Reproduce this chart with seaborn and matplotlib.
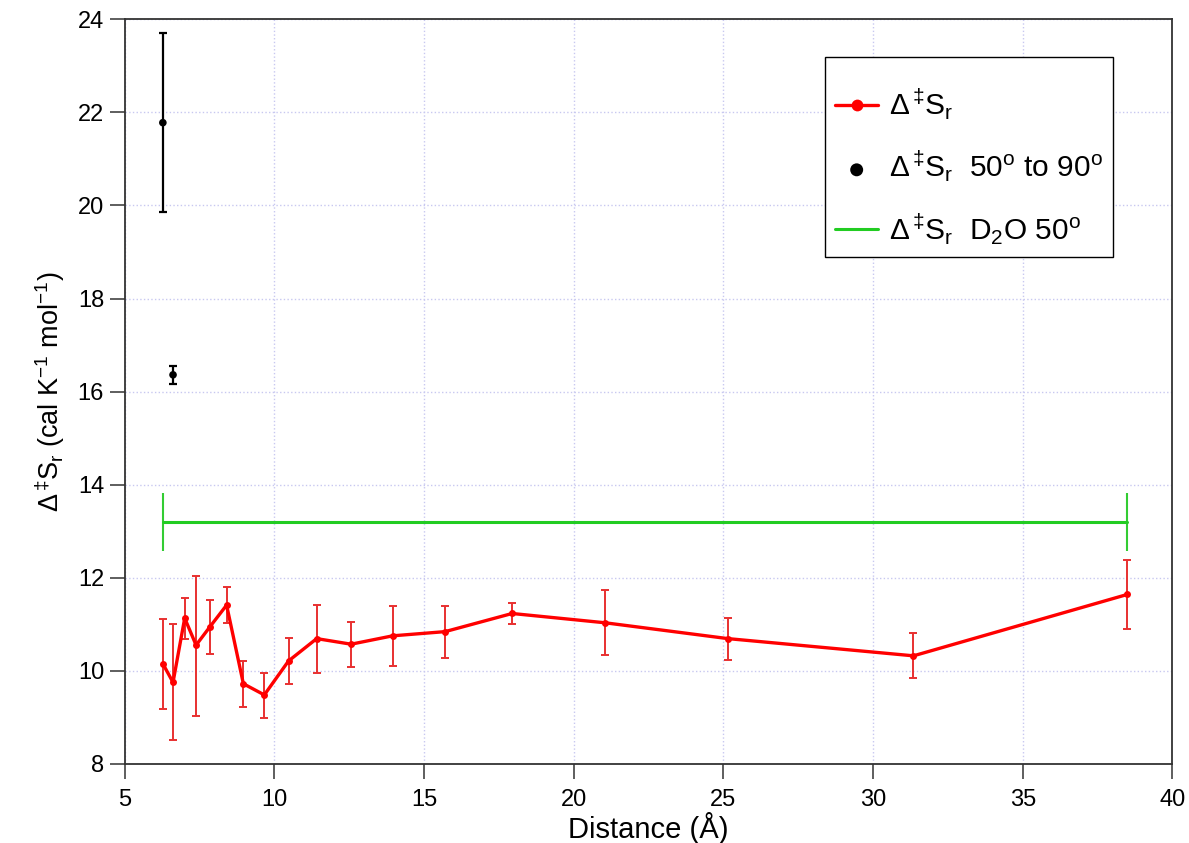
import numpy as np
import pandas as pd
import matplotlib
matplotlib.use('Agg')
import matplotlib.pyplot as plt
import seaborn as sns

# Red series: distance (Å) vs activation entropy, with error bars
dist = [6.27, 6.61, 7.00, 7.38, 7.85, 8.40, 8.96, 9.66, 10.47, 11.41,
        12.56, 13.95, 15.70, 17.94, 21.05, 25.15, 31.35, 38.50]
ds = [10.15, 9.75, 11.13, 10.55, 10.95, 11.41, 9.72, 9.48, 10.21, 10.69,
      10.57, 10.75, 10.84, 11.23, 11.03, 10.69, 10.32, 11.64]
ds_hi = [11.12, 11.00, 11.56, 12.03, 11.53, 11.80, 10.20, 9.96, 10.71, 11.41,
         11.05, 11.39, 11.39, 11.46, 11.73, 11.14, 10.80, 12.37]
ds_lo = [9.17, 8.51, 10.68, 9.03, 10.35, 11.02, 9.21, 8.98, 9.72, 9.96,
         10.07, 10.11, 10.28, 11.01, 10.34, 10.23, 9.85, 10.89]

# Black points: 50° to 90°
dist_hot = [6.27, 6.61]
ds_hot = [21.78, 16.36]
ds_hot_err = [1.93, 0.19]

# Green: D2O 50° (constant value)
dist_d2o = [6.27, 38.50]
ds_d2o = [13.19, 13.19]
ds_d2o_err = [0.62, 0.62]

sns.set_style('white')
plt.rcParams['font.family'] = ['Liberation Sans', 'DejaVu Sans']
plt.rcParams['mathtext.fontset'] = 'custom'
plt.rcParams['mathtext.rm'] = 'Liberation Sans'
plt.rcParams['mathtext.it'] = 'Liberation Sans'
plt.rcParams['mathtext.default'] = 'regular'
plt.rcParams['text.color'] = 'black'
plt.rcParams['axes.labelcolor'] = 'black'

fig = plt.figure(figsize=(11.89, 8.43), dpi=100)
ax = fig.add_axes([0.105, 0.094, 0.881, 0.883])

lbl = 'Δ$^{\\,‡}$S$_r$'

# green line
ax.errorbar(dist_d2o, ds_d2o, yerr=ds_d2o_err, fmt='none', ecolor='#33cc33',
            elinewidth=1.5, capsize=0, zorder=2)
sns.lineplot(x=dist_d2o, y=ds_d2o, color='#22cc22', linewidth=2.2, ax=ax,
             label=lbl + '  D$_2$O 50$^o$', zorder=3)

# red series
lo = np.array(ds) - np.array(ds_lo)
hi = np.array(ds_hi) - np.array(ds)
ax.errorbar(dist, ds, yerr=[lo, hi], fmt='none', ecolor='#e83030',
            elinewidth=1.4, capsize=2.8, capthick=1.4, zorder=3)
sns.lineplot(x=dist, y=ds, color='#ff0000', linewidth=2.4, marker='o',
             markersize=5, markeredgewidth=0, ax=ax, label=lbl, zorder=4)

# black points
ax.errorbar(dist_hot, ds_hot, yerr=ds_hot_err, fmt='none', ecolor='black',
            elinewidth=1.6, capsize=3.2, capthick=1.6, zorder=3)
sns.scatterplot(x=dist_hot, y=ds_hot, color='black', s=30, edgecolor='none',
                ax=ax, label=lbl + '  50$^o$ to 90$^o$', zorder=4)

ax.set_xlim(5, 40)
ax.set_ylim(8, 24)
ax.set_xticks(range(5, 41, 5))
ax.set_yticks(range(8, 25, 2))
ax.grid(True, color='#c8c8f0', linestyle=':', linewidth=1.0)
ax.set_axisbelow(True)
for s in ax.spines.values():
    s.set_color('#333333')
    s.set_linewidth(1.3)
ax.tick_params(direction='out', length=11, width=1.1, labelsize=17,
               color='#333333', labelcolor='black', pad=4, left=True, bottom=True)
ax.tick_params(axis='x', pad=7)

ax.set_xlabel('Distance (Å)', fontsize=21, labelpad=1)
ax.set_ylabel(lbl + ' (cal K$^{-1}$ mol$^{-1}$)', fontsize=19.5, labelpad=8)

h, l = ax.get_legend_handles_labels()
order = [l.index(lbl), l.index(lbl + '  50$^o$ to 90$^o$'), l.index(lbl + '  D$_2$O 50$^o$')]
leg = ax.legend([h[i] for i in order], [l[i] for i in order],
                loc='upper left', bbox_to_anchor=(0.668, 0.95),
                fontsize=21.5, frameon=True, fancybox=False, framealpha=1,
                edgecolor='black', borderpad=0.35, labelspacing=0.9,
                handlelength=1.45, handletextpad=0.35, borderaxespad=0,
                markerscale=1.7, title=' ', title_fontsize=8)
# small blank title only to leave room above the first row
leg._legend_box.sep = 7
leg.get_frame().set_linewidth(1.0)

fig.savefig('out.png', dpi=100)
